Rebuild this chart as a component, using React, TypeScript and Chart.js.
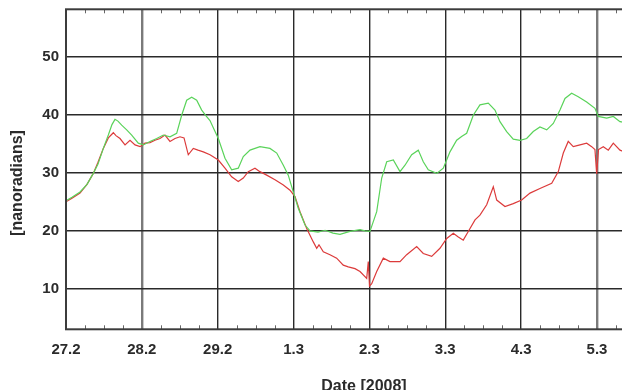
import React, { useEffect, useRef } from 'react';
import { Chart, registerables } from 'chart.js';

Chart.register(...registerables);

// x positions are days after 27.2.2008 00:00
const dayLabels = ['27.2', '28.2', '29.2', '1.3', '2.3', '3.3', '4.3', '5.3'];
const yTickValues = [10, 20, 30, 40, 50];

const greenDays = [
  0.0, 0.079, 0.185, 0.277, 0.36, 0.422, 0.492, 0.558, 0.606, 0.646, 0.685, 0.734, 0.8, 0.866, 0.953,
  1.019, 1.107, 1.196, 1.283, 1.371, 1.459, 1.525, 1.591, 1.657, 1.723, 1.789, 1.846, 1.898, 1.951,
  2.008, 2.096, 2.184, 2.271, 2.337, 2.426, 2.557, 2.689, 2.778, 2.865, 2.93, 2.996, 3.062, 3.151,
  3.217, 3.322, 3.415, 3.52, 3.612, 3.744, 3.876, 3.941, 4.007, 4.096, 4.162, 4.228, 4.315, 4.403,
  4.469, 4.557, 4.644, 4.71, 4.776, 4.887, 4.974, 5.062, 5.15, 5.22, 5.282, 5.369, 5.457, 5.567,
  5.655, 5.721, 5.809, 5.896, 5.985, 6.073, 6.16, 6.248, 6.337, 6.424, 6.512, 6.578, 6.666, 6.753,
  6.864, 6.973, 7.017, 7.128, 7.215, 7.303, 7.435,
];
const greenValues = [
  25.2, 25.8, 26.7, 28.0, 29.9, 31.5, 34.2, 36.5, 38.3, 39.2, 38.9, 38.2, 37.4, 36.5, 35.1,
  34.8, 35.4, 35.9, 36.5, 36.2, 36.8, 39.9, 42.5, 43.0, 42.5, 40.8, 39.8, 39.0, 37.5,
  35.9, 32.5, 30.5, 30.8, 32.8, 33.9, 34.5, 34.2, 33.4, 31.3, 29.6, 26.7, 23.9, 21.0,
  20.0, 19.8, 20.1, 19.6, 19.4, 19.9, 20.2, 20.0, 19.9, 23.3, 29.1, 31.9, 32.2, 30.2,
  31.3, 33.1, 33.9, 31.9, 30.5, 29.9, 30.8, 33.6, 35.6, 36.3, 36.8, 39.9, 41.7, 42.0,
  40.8, 38.8, 37.1, 35.8, 35.6, 35.9, 37.1, 37.9, 37.4, 38.5, 40.8, 42.8, 43.7, 43.1,
  42.2, 41.1, 39.7, 39.4, 39.7, 38.8, 38.5,
];

const redDays = [
  0.0, 0.079, 0.185, 0.277, 0.36, 0.422, 0.492, 0.558, 0.624, 0.659, 0.712, 0.778, 0.844, 0.91, 0.976,
  1.041, 1.107, 1.173, 1.239, 1.305, 1.371, 1.437, 1.503, 1.556, 1.612, 1.678, 1.74, 1.81, 1.898,
  2.008, 2.096, 2.184, 2.271, 2.337, 2.403, 2.491, 2.557, 2.646, 2.755, 2.865, 2.953, 3.019, 3.085,
  3.173, 3.26, 3.305, 3.335, 3.392, 3.48, 3.568, 3.655, 3.721, 3.81, 3.876, 3.964, 3.985, 4.001,
  4.03, 4.096, 4.183, 4.271, 4.403, 4.491, 4.623, 4.71, 4.821, 4.93, 5.019, 5.106, 5.167, 5.237,
  5.303, 5.392, 5.457, 5.546, 5.633, 5.678, 5.787, 5.896, 6.007, 6.117, 6.248, 6.403, 6.49, 6.556,
  6.621, 6.687, 6.776, 6.864, 6.93, 6.973, 6.996, 7.02, 7.083, 7.149, 7.215, 7.303, 7.382,
];
const redValues = [
  25.0, 25.6, 26.5, 28.0, 29.9, 31.8, 34.2, 36.0, 36.9, 36.4, 35.9, 34.8, 35.6, 34.8, 34.5,
  35.1, 35.2, 35.6, 35.9, 36.5, 35.4, 35.9, 36.2, 36.0, 33.1, 34.2, 33.9, 33.6, 33.1,
  32.2, 30.8, 29.3, 28.5, 29.1, 30.2, 30.8, 30.2, 29.6, 28.8, 27.9, 27.0, 25.9, 23.3,
  20.4, 18.1, 17.0, 17.6, 16.4, 15.9, 15.3, 14.1, 13.8, 13.5, 13.0, 11.8, 14.7, 10.5,
  10.9, 13.0, 15.3, 14.7, 14.7, 15.9, 17.3, 16.1, 15.6, 17.0, 18.7, 19.6, 19.0, 18.4,
  19.9, 21.9, 22.7, 24.5, 27.6, 25.3, 24.2, 24.7, 25.3, 26.5, 27.3, 28.2, 30.2, 33.4,
  35.4, 34.5, 34.8, 35.1, 34.5, 34.0, 29.8, 34.0, 34.5, 33.9, 35.1, 33.9, 33.5,
];

const TEXT = '#2b2b2b';
const FONT_FAMILY = '"Liberation Sans", Arial, Helvetica, sans-serif';

export default function App() {
  const ref = useRef<HTMLCanvasElement>(null);

  useEffect(() => {
    const canvas = ref.current;
    if (!canvas) return;

    const framePlugin = {
      id: 'frameAndMinor',
      afterDraw(chart: any) {
        const { ctx, chartArea } = chart;
        const xs = chart.scales.x;
        ctx.save();
        // minor ticks every 6 hours, inside top and bottom borders
        ctx.strokeStyle = '#666';
        ctx.lineWidth = 1;
        for (let q = 1; q < 32; q++) {
          if (q % 4 === 0) continue;
          const px = Math.round(xs.getPixelForValue(q / 4)) + 0.5;
          if (px > chartArea.right) break;
          ctx.beginPath();
          ctx.moveTo(px, chartArea.top);
          ctx.lineTo(px, chartArea.top + 4);
          ctx.moveTo(px, chartArea.bottom);
          ctx.lineTo(px, chartArea.bottom - 4);
          ctx.stroke();
        }
        // frame
        ctx.strokeStyle = '#3c3c3c';
        ctx.lineWidth = 2;
        ctx.strokeRect(chartArea.left, chartArea.top, chartArea.right - chartArea.left, chartArea.bottom - chartArea.top);
        // y title
        ctx.translate(18, 183);
        ctx.rotate(-Math.PI / 2);
        ctx.fillStyle = TEXT;
        ctx.font = `bold 16px ${FONT_FAMILY}`;
        ctx.textAlign = 'center';
        ctx.textBaseline = 'middle';
        ctx.fillText('[nanoradians]', 0, 0);
        ctx.restore();
      },
    };

    const chart = new Chart(canvas, {
      type: 'line',
      data: {
        datasets: [
          {
            label: 'green',
            data: greenDays.map((d, i) => ({ x: d, y: greenValues[i] })),
            borderColor: '#5ad35a',
            borderWidth: 1.2,
            pointRadius: 0,
            tension: 0,
            fill: false,
          },
          {
            label: 'red',
            data: redDays.map((d, i) => ({ x: d, y: redValues[i] })),
            borderColor: '#dc3b3b',
            borderWidth: 1.2,
            pointRadius: 0,
            tension: 0,
            fill: false,
          },
        ],
      },
      options: {
        responsive: false,
        animation: false,
        layout: { padding: { top: 9.3, left: 0, right: 0, bottom: 0 } },
        plugins: {
          legend: { display: false },
          tooltip: { enabled: false },
        },
        scales: {
          x: {
            type: 'linear',
            min: 0,
            max: 7.857,
            afterBuildTicks: (s: any) => {
              s.ticks = dayLabels.map((_, i) => ({ value: i }));
            },
            afterFit: (s: any) => {
              s.height = 70.7;
              s.paddingLeft = 0;
              s.paddingRight = 0;
            },
            ticks: {
              autoSkip: false,
              maxRotation: 0,
              padding: 12,
              color: TEXT,
              font: { family: FONT_FAMILY, size: 15, weight: 'bold' },
              callback: (v: any) => dayLabels[Math.round(Number(v))] ?? '',
            },
            grid: {
              drawTicks: false,
              color: (c: any) => (c.index === 1 || c.index === 7 ? '#7a7a7a' : '#2a2a2a'),
              lineWidth: (c: any) => (c.index === 1 || c.index === 7 ? 2.4 : 1.4),
            },
            border: { display: false },
            title: {
              display: true,
              text: 'Date [2008]',
              color: TEXT,
              font: { family: FONT_FAMILY, size: 16, weight: 'bold' },
              padding: { top: 0, bottom: 4 },
            },
          },
          y: {
            type: 'linear',
            min: 3.05,
            max: 58.15,
            afterBuildTicks: (s: any) => {
              s.ticks = yTickValues.map((v) => ({ value: v }));
            },
            afterFit: (s: any) => {
              s.width = 66;
              s.paddingTop = 0;
              s.paddingBottom = 0;
            },
            ticks: {
              padding: 7,
              color: TEXT,
              font: { family: FONT_FAMILY, size: 15, weight: 'bold' },
            },
            grid: {
              drawTicks: false,
              color: '#2a2a2a',
              lineWidth: 1.4,
            },
            border: { display: false },
          },
        },
      },
      plugins: [framePlugin],
    } as any);

    return () => chart.destroy();
  }, []);

  return (
    <div
      style={{
        position: 'fixed',
        left: 0,
        top: 0,
        width: 622,
        height: 390,
        overflow: 'hidden',
        background: '#ffffff',
      }}
    >
      <canvas ref={ref} width={662} height={400} style={{ display: 'block' }} />
    </div>
  );
}
